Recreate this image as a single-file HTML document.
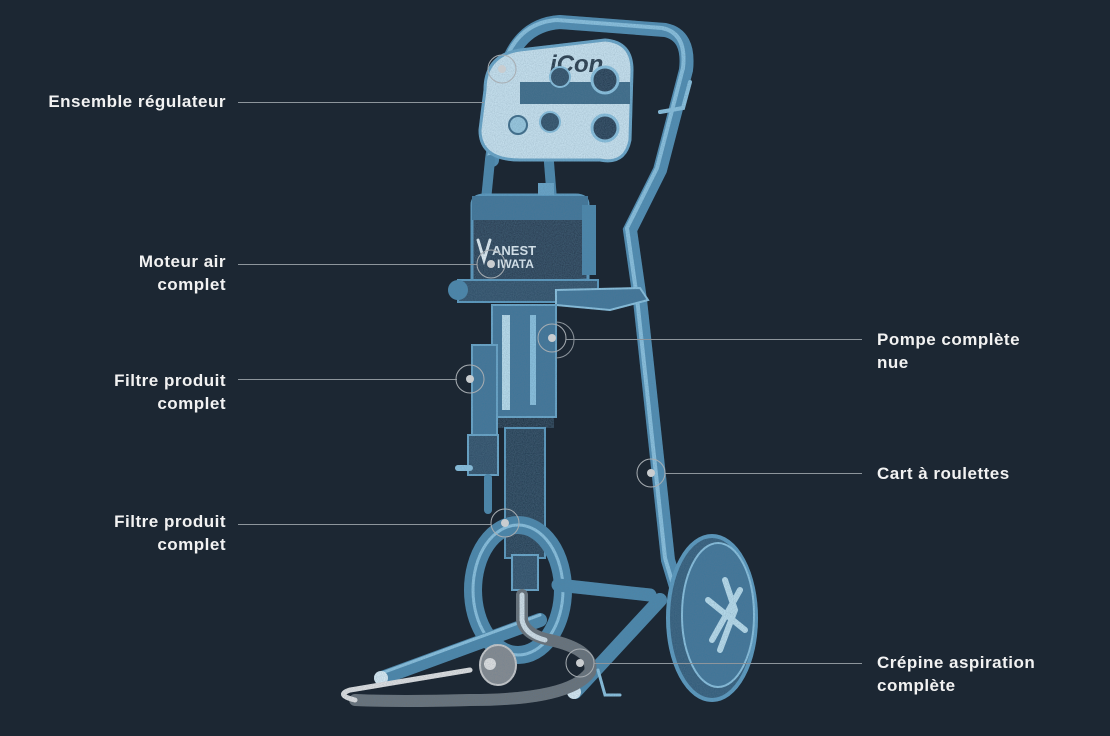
<!DOCTYPE html>
<html><head><meta charset="utf-8"><style>
html,body{margin:0;padding:0;background:#1c2733;}
body{width:1110px;height:736px;position:relative;overflow:hidden;font-family:"Liberation Sans",sans-serif;}
.l{position:absolute;color:#f2f2f2;font-weight:bold;font-size:17px;letter-spacing:0.5px;line-height:23px;}
.r{text-align:right;right:884px;}
svg{position:absolute;left:0;top:0;}
</style></head><body>
<svg width="1110" height="736" viewBox="0 0 1110 736">
<defs>
<filter id="n"><feTurbulence type="fractalNoise" baseFrequency="0.9" numOctaves="2" result="t"/><feColorMatrix in="t" type="matrix" values="0 0 0 0 0.1 0 0 0 0 0.2 0 0 0 0 0.3 0 0 0 0.5 0" result="m"/><feComposite in="m" in2="SourceGraphic" operator="in" result="c"/><feMerge><feMergeNode in="SourceGraphic"/><feMergeNode in="c"/></feMerge></filter>
</defs>
<g filter="url(#n)" stroke-linecap="round" fill="none">
<path d="M492 160 L503 80 Q515 25 560 22 L665 30 Q690 35 686 70 L660 170 L630 230 L640 300 L668 560 L680 600" stroke="#4f8fb5" stroke-width="14"/>
<path d="M492 160 L503 80 Q515 25 560 22 L665 30 Q690 35 686 70 L660 170 L630 230 L640 300 L668 560 L680 600" stroke="#8ec6e4" stroke-width="4" transform="translate(-3,-2)"/>
<path d="M660 112 L683 108 L690 82" stroke="#8ec6e4" stroke-width="4"/>
<path d="M490 160 L486 200" stroke="#4a88ad" stroke-width="10"/>
<path d="M548 150 L552 200" stroke="#4a88ad" stroke-width="10"/>
<path d="M485 90 Q485 55 520 50 L605 40 Q632 42 632 70 L630 140 Q625 165 600 160 L520 160 Q480 160 480 130 Z" fill="#cfe9f6" stroke="#6aa8cc" stroke-width="3"/>
<rect x="520" y="82" width="110" height="22" fill="#3a6a88"/>
<text x="550" y="72" font-family="Liberation Sans" font-weight="bold" font-style="italic" font-size="24" fill="#1c2733" stroke="none">iCon</text>
<circle cx="605" cy="80" r="13" fill="#1f3346" stroke="#8ec6e4" stroke-width="3"/>
<circle cx="605" cy="128" r="13" fill="#1f3346" stroke="#8ec6e4" stroke-width="3"/>
<circle cx="560" cy="77" r="10" fill="#2c4a60" stroke="#8ec6e4" stroke-width="2"/>
<circle cx="550" cy="122" r="10" fill="#2c4a60" stroke="#8ec6e4" stroke-width="2"/>
<circle cx="518" cy="125" r="9" fill="#9fcfe6" stroke="#3a6a88" stroke-width="2"/>
<path d="M472 205 Q472 195 485 195 L575 195 Q588 195 588 205 L588 280 L472 285 Z" fill="#223548" stroke="#5b9cc2" stroke-width="3"/>
<rect x="472" y="196" width="116" height="24" fill="#3d7499"/>
<rect x="538" y="183" width="16" height="12" fill="#6aa8cc"/>
<rect x="582" y="205" width="14" height="70" fill="#4a88ad"/>
<text x="492" y="255" font-family="Liberation Sans" font-weight="bold" font-size="13" fill="#e8f4fa" stroke="none">ANEST</text>
<text x="497" y="268" font-family="Liberation Sans" font-weight="bold" font-size="12" fill="#e8f4fa" stroke="none">IWATA</text>
<path d="M478 240 L484 260 L490 240" stroke="#e8f4fa" stroke-width="3"/>
<rect x="458" y="280" width="140" height="22" fill="#2a4a62" stroke="#5b9cc2" stroke-width="2"/>
<ellipse cx="458" cy="290" rx="10" ry="10" fill="#4a88ad"/>
<path d="M556 290 L640 288 L648 300 L610 310 L556 305 Z" fill="#3d7499" stroke="#8ec6e4" stroke-width="2"/>
<rect x="492" y="305" width="64" height="112" fill="#3d7499" stroke="#6aa8cc" stroke-width="2"/>
<rect x="502" y="315" width="8" height="95" fill="#bfe3f3"/>
<rect x="530" y="315" width="6" height="90" fill="#8ec6e4"/>
<rect x="494" y="418" width="60" height="10" fill="#152230"/>
<rect x="505" y="428" width="40" height="130" fill="#1e3448" stroke="#5b9cc2" stroke-width="2"/>
<rect x="512" y="555" width="26" height="35" fill="#2a4a62" stroke="#6aa8cc" stroke-width="2"/>
<rect x="472" y="345" width="25" height="92" fill="#3d7499" stroke="#6aa8cc" stroke-width="2"/>
<rect x="468" y="435" width="30" height="40" fill="#2a4a62" stroke="#6aa8cc" stroke-width="2"/>
<path d="M458 468 L470 468" stroke="#8ec6e4" stroke-width="6"/>
<path d="M488 478 L488 510" stroke="#4a88ad" stroke-width="8"/>
<ellipse cx="518" cy="590" rx="45" ry="65" fill="none" stroke="#4a88ad" stroke-width="18"/>
<ellipse cx="518" cy="590" rx="45" ry="65" fill="none" stroke="#8ec6e4" stroke-width="3"/>
<path d="M558 585 L650 595" stroke="#4a88ad" stroke-width="13"/>
<path d="M540 620 L382 678" stroke="#4a88ad" stroke-width="14"/>
<path d="M660 600 L575 692" stroke="#4a88ad" stroke-width="14"/>
<path d="M540 615 L382 673" stroke="#8ec6e4" stroke-width="3"/>
<path d="M598 670 L605 695 L620 695" stroke="#8ec6e4" stroke-width="3"/>
<circle cx="381" cy="678" r="7" fill="#dff2fb"/>
<circle cx="574" cy="692" r="7" fill="#dff2fb"/>
<ellipse cx="712" cy="618" rx="44" ry="82" fill="#2f5a78" stroke="#5b9cc2" stroke-width="4"/>
<ellipse cx="718" cy="615" rx="36" ry="72" fill="#3d7499" stroke="#8ec6e4" stroke-width="2"/>
<path d="M725 580 L735 610 L720 650 M708 600 L745 630 M740 590 L712 640" stroke="#bfe3f3" stroke-width="6"/>
<path d="M522 595 L522 620 Q525 635 550 640 Q595 650 590 672 Q570 700 470 700 Q400 702 355 700" stroke="#6c6f72" stroke-width="12"/>
<path d="M355 700 Q335 695 350 690 L470 670" stroke="#e8e8e8" stroke-width="5"/>
<path d="M522 595 L522 620 Q525 635 545 640" stroke="#d8e6ee" stroke-width="5"/>
<ellipse cx="498" cy="665" rx="18" ry="20" fill="#8a8c8e" stroke="#cfcfcf" stroke-width="2"/>
<circle cx="490" cy="664" r="6" fill="#e8e8e8"/>
</g>
<g stroke="#8d959c" stroke-width="1" fill="none">
<line x1="238" y1="102.5" x2="484" y2="102.5"/>
<line x1="238" y1="264.5" x2="477" y2="264.5"/>
<line x1="238" y1="379.5" x2="457" y2="379.5"/>
<line x1="238" y1="524.5" x2="491" y2="524.5"/>
<line x1="566" y1="339.5" x2="862" y2="339.5"/>
<line x1="665" y1="473.5" x2="862" y2="473.5"/>
<line x1="594" y1="663.5" x2="862" y2="663.5"/>
<path d="M556 322 A18 18 0 0 1 556 358"/>
</g>
<g stroke="#a7adb2" stroke-width="1" fill="none">
<circle cx="502" cy="69" r="14"/><circle cx="491" cy="264" r="14"/><circle cx="552" cy="338" r="14"/>
<circle cx="470" cy="379" r="14"/><circle cx="651" cy="473" r="14"/><circle cx="505" cy="523" r="14"/><circle cx="580" cy="663" r="14"/>
</g>
<g fill="#c9cdd0">
<circle cx="502" cy="69" r="4"/><circle cx="491" cy="264" r="4"/><circle cx="552" cy="338" r="4"/>
<circle cx="470" cy="379" r="4"/><circle cx="651" cy="473" r="4"/><circle cx="505" cy="523" r="4"/><circle cx="580" cy="663" r="4"/>
</g>
</svg>
<div class="l r" style="top:90px;">Ensemble régulateur</div>
<div class="l r" style="top:250px;">Moteur air<br>complet</div>
<div class="l r" style="top:369px;">Filtre produit<br>complet</div>
<div class="l r" style="top:510px;">Filtre produit<br>complet</div>
<div class="l" style="left:877px;top:328px;">Pompe complète<br>nue</div>
<div class="l" style="left:877px;top:462px;">Cart à roulettes</div>
<div class="l" style="left:877px;top:651px;">Crépine aspiration<br>complète</div>
</body></html>
